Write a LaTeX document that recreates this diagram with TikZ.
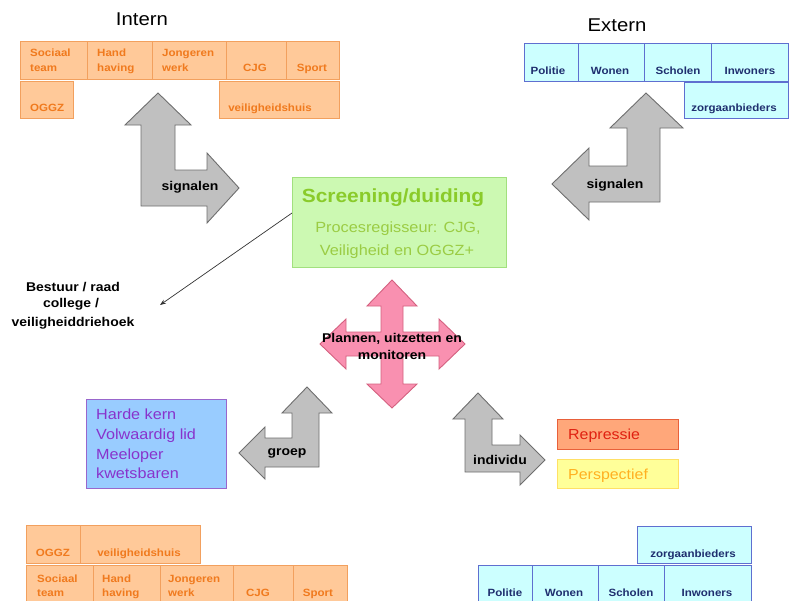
\documentclass[tikz,border=0pt]{standalone}
\usepackage{fontspec}
\setmainfont{Liberation Sans}[FakeStretch=1.1]
\usetikzlibrary{arrows.meta,calc}
\definecolor{ocf}{HTML}{FFC999}
\definecolor{ocb}{HTML}{F2A05E}
\definecolor{oct}{HTML}{F07A1E}
\definecolor{bcf}{HTML}{CCFFFF}
\definecolor{bcb}{HTML}{5F6FD0}
\definecolor{bct}{HTML}{1F2F6F}
\definecolor{gf}{HTML}{C0C0C0}
\definecolor{gb}{HTML}{6E6E6E}
\definecolor{pf}{HTML}{F990B0}
\definecolor{pb}{HTML}{D4607F}
\definecolor{grf}{HTML}{CCF9B2}
\definecolor{grb}{HTML}{A2E07E}
\definecolor{grt}{HTML}{8ACB2A}
\definecolor{grs}{HTML}{9BCC44}
\definecolor{hkf}{HTML}{99CCFF}
\definecolor{hkb}{HTML}{9966CC}
\definecolor{hkt}{HTML}{8833CC}
\definecolor{rpf}{HTML}{FFA77A}
\definecolor{rpb}{HTML}{E8603A}
\definecolor{rpt}{HTML}{E02010}
\definecolor{psf}{HTML}{FFFF99}
\definecolor{psb}{HTML}{FFE066}
\definecolor{pst}{HTML}{FFB020}
\tikzset{
  ocell/.style={draw=ocb, fill=ocf, line width=0.9pt},
  bcell/.style={draw=bcb, fill=bcf, line width=0.9pt},
  otxt/.style={text=oct, inner sep=0pt, font=\bfseries\fontsize{10.5}{12}\selectfont},
  btxt/.style={text=bct, inner sep=0pt, font=\bfseries\fontsize{10.5}{12}\selectfont},
  garrow/.style={draw=gb, fill=gf, line width=0.9pt, line join=miter},
  atxt/.style={text=black, inner sep=0pt, font=\bfseries\fontsize{12.7}{14}\selectfont},
  ttl/.style={text=black, inner sep=0pt, font=\fontsize{18.5}{20}\selectfont},
  hktxt/.style={text=hkt, inner sep=0pt, anchor=base west, font=\fontsize{14.7}{16}\selectfont},
}
\begin{document}
\begin{tikzpicture}[x=1pt,y=-1pt]
\useasboundingbox (0,0) rectangle (789,600);

% ---------- titles
\node[ttl, anchor=base] (intern) at (142,25) {Intern};
\node[ttl, anchor=base] (extern) at (617,31) {Extern};

% ---------- top-left orange table
\draw[ocell] (20,41) rectangle (87,79);
\draw[ocell] (87,41) rectangle (152,79);
\draw[ocell] (152,41) rectangle (226,79);
\draw[ocell] (226,41) rectangle (286,79);
\draw[ocell] (286,41) rectangle (339,79);
\draw[ocell] (20,81) rectangle (73,118);
\draw[ocell] (219,81) rectangle (339,118);
\node[otxt, anchor=base west] (tl1a) at (30,56) {Sociaal};
\node[otxt, anchor=base west] (tl1b) at (30,71) {team};
\node[otxt, anchor=base west] (tl2a) at (97,56) {Hand};
\node[otxt, anchor=base west] (tl2b) at (97,71) {having};
\node[otxt, anchor=base west] (tl3a) at (162,56) {Jongeren};
\node[otxt, anchor=base west] (tl3b) at (162,71) {werk};
\node[otxt, anchor=base] (tl4) at (255,71) {CJG};
\node[otxt, anchor=base] (tl5) at (312,71) {Sport};
\node[otxt, anchor=base west] (tl6) at (30,111) {OGGZ};
\node[otxt, anchor=base] (tl7) at (270,111) {veiligheidshuis};

% ---------- top-right blue table
\draw[bcell] (524,43) rectangle (578,81);
\draw[bcell] (578,43) rectangle (644,81);
\draw[bcell] (644,43) rectangle (711,81);
\draw[bcell] (711,43) rectangle (788,81);
\draw[bcell] (684,82.5) rectangle (788,118);
\node[btxt, anchor=base] (tr1) at (548,74) {Politie};
\node[btxt, anchor=base] (tr2) at (610,74) {Wonen};
\node[btxt, anchor=base] (tr3) at (678,74) {Scholen};
\node[btxt, anchor=base] (tr4) at (750,74) {Inwoners};
\node[btxt, anchor=base] (tr5) at (734,111) {zorgaanbieders};

% ---------- signalen arrows
\draw[garrow] (158,93) -- (191,125) -- (175,125) -- (175,170) -- (207,170) -- (207,153)
  -- (239,188) -- (207,223) -- (207,206) -- (141,206) -- (141,125) -- (125,125) -- cycle;
\node[atxt] (sigl) at (190,187) {signalen};
\draw[garrow] (646,93) -- (683,128) -- (660,128) -- (660,202) -- (589,202) -- (589,220)
  -- (552,184) -- (589,148) -- (589,166) -- (627,166) -- (627,128) -- (610,128) -- cycle;
\node[atxt] (sigr) at (615,185) {signalen};

% ---------- screening box
\draw[draw=grb, fill=grf, line width=1pt] (292,177) rectangle (506,267);
\coordinate (scrw) at (292,213);
\node[inner sep=0pt, anchor=base, text=grt, font=\bfseries\fontsize{19}{21}\selectfont] (scr) at (393,202) {Screening/duiding};
\node[inner sep=0pt, anchor=base, text=grs, font=\fontsize{14.8}{16}\selectfont] (proc1) at (398,232) {Procesregisseur: CJG,};
\node[inner sep=0pt, anchor=base, text=grs, font=\fontsize{14.8}{16}\selectfont] (proc2) at (397,255) {Veiligheid en OGGZ+};

% ---------- bestuur
\node[atxt, anchor=base] (b1) at (73,291) {Bestuur / raad};
\node[atxt, anchor=base] (b2) at (71,307) {college /};
\node[atxt, anchor=base] (b3) at (73,326) {veiligheiddriehoek};
\coordinate (btip) at (160,305);
\draw[draw=black!80, line width=0.7pt, -{Stealth[length=6pt,width=4.5pt]}] (scrw) -- (btip);

% ---------- pink cross
\draw[draw=pb, fill=pf, line width=0.9pt, line join=miter]
  (392,280) -- (417,306) -- (403,306) -- (403,332) -- (439,332) -- (439,319) -- (465,344)
  -- (439,369) -- (439,356) -- (403,356) -- (403,384) -- (417,384) -- (392,408) -- (367,384)
  -- (381,384) -- (381,356) -- (346,356) -- (346,369) -- (320,344) -- (346,319) -- (346,332)
  -- (381,332) -- (381,306) -- (367,306) -- cycle;
\node[atxt, anchor=base] (pl1) at (392,342) {Plannen, uitzetten en};
\node[atxt, anchor=base] (pl2) at (392,359) {monitoren};

% ---------- groep arrow
\draw[garrow] (307,387) -- (332,413) -- (319,413) -- (319,467) -- (265,467) -- (265,479)
  -- (239,453) -- (265,427) -- (265,438) -- (292,438) -- (292,413) -- (282,413) -- cycle;
\node[atxt] (groep) at (287,453) {groep};

% ---------- individu arrow
\draw[garrow] (478,393) -- (503,419) -- (492,419) -- (492,445) -- (520,445) -- (520,435)
  -- (545,460) -- (520,485) -- (520,472) -- (465,472) -- (465,419) -- (453,419) -- cycle;
\node[atxt] (indiv) at (500,460) {individu};

% ---------- Harde kern box
\draw[draw=hkb, fill=hkf, line width=1pt] (86,399) rectangle (226,488);
\node[hktxt] (hk1) at (96,419) {Harde kern};
\node[hktxt] (hk2) at (96,439) {Volwaardig lid};
\node[hktxt] (hk3) at (96,459) {Meeloper};
\node[hktxt] (hk4) at (96,478) {kwetsbaren};

% ---------- Repressie / Perspectief
\draw[draw=rpb, fill=rpf, line width=1pt] (557,419) rectangle (678,449);
\node[inner sep=0pt, anchor=base west, text=rpt, font=\fontsize{14.5}{16}\selectfont] (rep) at (568,439) {Repressie};
\draw[draw=psb, fill=psf, line width=1pt] (557,459) rectangle (678,488);
\node[inner sep=0pt, anchor=base west, text=pst, font=\fontsize{14.5}{16}\selectfont] (per) at (568,479) {Perspectief};

% ---------- bottom-left orange table
\draw[ocell] (26,525) rectangle (80,563);
\draw[ocell] (80,525) rectangle (200,563);
\draw[ocell] (26,565) rectangle (93,606);
\draw[ocell] (93,565) rectangle (160,606);
\draw[ocell] (160,565) rectangle (233,606);
\draw[ocell] (233,565) rectangle (293,606);
\draw[ocell] (293,565) rectangle (347,606);
\node[otxt, anchor=base] (bl1) at (53,556) {OGGZ};
\node[otxt, anchor=base] (bl2) at (139,556) {veiligheidshuis};
\node[otxt, anchor=base west] (bl3a) at (37,582) {Sociaal};
\node[otxt, anchor=base west] (bl3b) at (37,596) {team};
\node[otxt, anchor=base west] (bl4a) at (102,582) {Hand};
\node[otxt, anchor=base west] (bl4b) at (102,596) {having};
\node[otxt, anchor=base west] (bl5a) at (168,582) {Jongeren};
\node[otxt, anchor=base west] (bl5b) at (168,596) {werk};
\node[otxt, anchor=base] (bl6) at (258,596) {CJG};
\node[otxt, anchor=base] (bl7) at (318,596) {Sport};

% ---------- bottom-right blue table
\draw[bcell] (637,526) rectangle (751,563);
\draw[bcell] (478,565) rectangle (532,606);
\draw[bcell] (532,565) rectangle (598,606);
\draw[bcell] (598,565) rectangle (664,606);
\draw[bcell] (664,565) rectangle (751,606);
\node[btxt, anchor=base] (br1) at (693,557) {zorgaanbieders};
\node[btxt, anchor=base] (br2) at (505,596) {Politie};
\node[btxt, anchor=base] (br3) at (564,596) {Wonen};
\node[btxt, anchor=base] (br4) at (631,596) {Scholen};
\node[btxt, anchor=base] (br5) at (707,596) {Inwoners};
\end{tikzpicture}
\end{document}
